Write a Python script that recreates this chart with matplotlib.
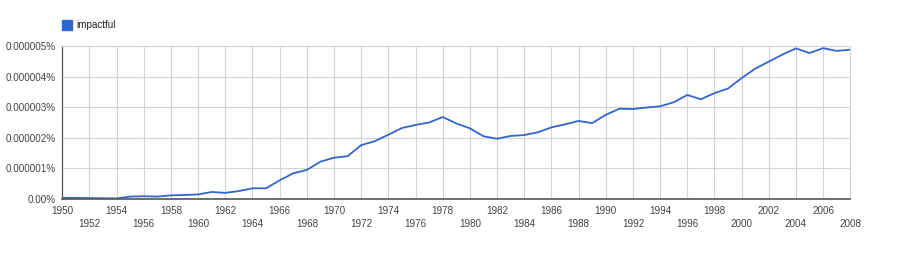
import matplotlib
matplotlib.use('Agg')
from matplotlib import pyplot as plt
from matplotlib.patches import Rectangle

plt.rcParams['font.family'] = ['Liberation Sans', 'DejaVu Sans']

# frequency of "impactful" (percent of corpus)
years = list(range(1950, 2009))
vals = [0.04, 0.035, 0.03, 0.025, 0.02, 0.08, 0.09, 0.08, 0.12, 0.13,
        0.15, 0.23, 0.20, 0.26, 0.35, 0.35, 0.61, 0.84, 0.95, 1.22,
        1.35, 1.40, 1.76, 1.89, 2.10, 2.32, 2.42, 2.50, 2.68, 2.47,
        2.31, 2.05, 1.97, 2.06, 2.09, 2.18, 2.34, 2.44, 2.55, 2.48,
        2.75, 2.95, 2.94, 2.99, 3.03, 3.16, 3.40, 3.26, 3.46, 3.61,
        3.95, 4.26, 4.49, 4.72, 4.92, 4.77, 4.93, 4.84, 4.88]
pct = [v * 1e-6 for v in vals]

y_ticks = [0, 1e-6, 2e-6, 3e-6, 4e-6, 5e-6]
y_labels = ['0.00%', '0.000001%', '0.000002%', '0.000003%', '0.000004%', '0.000005%']
top_row = list(range(1950, 2009, 4))
low_row = list(range(1952, 2009, 4))

blue = '#3366cc'
fig = plt.figure(figsize=(9, 2.54), dpi=100)
ax = fig.add_axes([0.0692, 0.2165, 0.8756, 0.6024])

ax.plot(years, pct, color=blue, lw=1.3)
ax.set_xlim(1950, 2008)
ax.set_ylim(0, 5e-6)

ax.set_yticks(y_ticks)
ax.set_yticklabels(y_labels)
ax.set_xticks(top_row)
ax.set_xticklabels([str(y) for y in top_row])
ax.set_xticks(low_row, minor=True)
ax.set_xticklabels([str(y) for y in low_row], minor=True)

ax.tick_params(axis='both', which='both', length=0, labelsize=7.1, labelcolor='#444444')
ax.tick_params(axis='x', which='major', pad=4.8)
ax.tick_params(axis='x', which='minor', pad=14.3)
ax.tick_params(axis='y', pad=5)

ax.grid(True, which='both', color='#d4d4d4', lw=0.8)
ax.set_axisbelow(True)
for s in ['top', 'right']:
    ax.spines[s].set_color('#d4d4d4')
    ax.spines[s].set_linewidth(0.8)
ax.spines['bottom'].set_color('#555555')
ax.spines['bottom'].set_linewidth(1.2)
ax.spines['left'].set_color('#555555')
ax.spines['left'].set_linewidth(0.9)

# legend
fig.patches.append(Rectangle((62 / 900, 1 - 30 / 254), 10 / 900, 10 / 254,
                             transform=fig.transFigure, color=blue))
fig.text(76 / 900, 1 - 25 / 254, 'impactful', fontsize=7.1, color='#222222', va='center')

fig.savefig('out.png', dpi=100)
